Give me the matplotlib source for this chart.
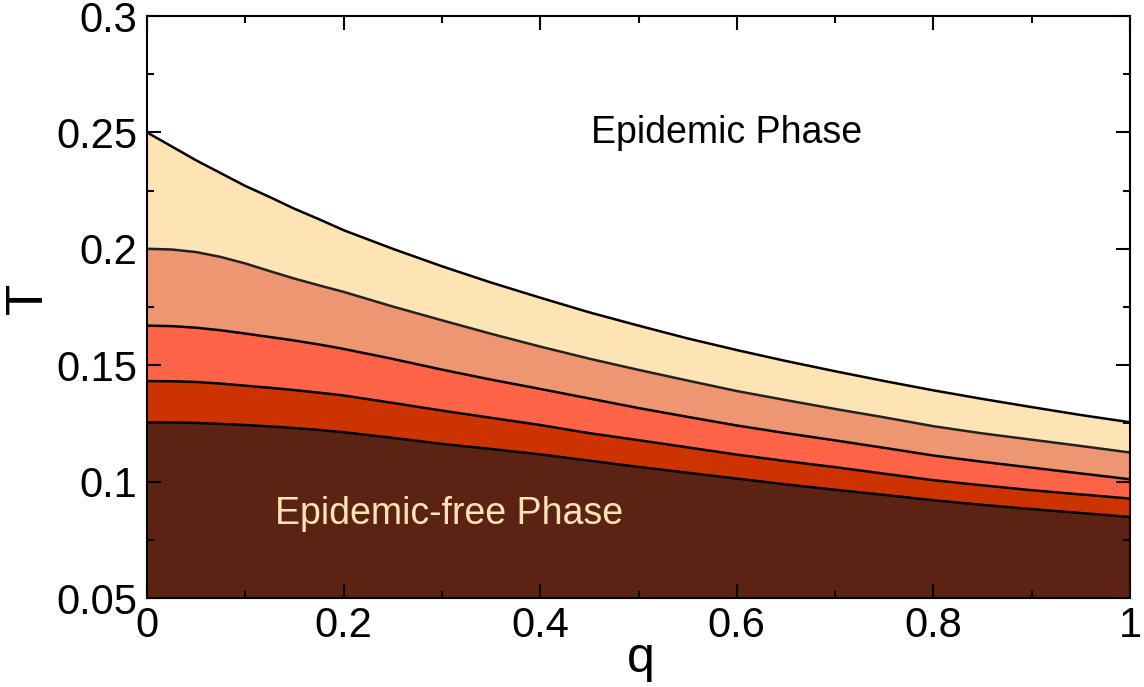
import matplotlib
matplotlib.use("Agg")
import matplotlib.pyplot as plt
from matplotlib.ticker import MultipleLocator

plt.rcParams['font.family'] = ['Liberation Sans', 'DejaVu Sans']

q = [0.0, 0.025, 0.05, 0.075, 0.1, 0.125, 0.15, 0.175, 0.2, 0.25, 0.3, 0.35, 0.4, 0.45, 0.5,
     0.55, 0.6, 0.65, 0.7, 0.75, 0.8, 0.85, 0.9, 0.95, 1.0]

T_curve1 = [0.2500, 0.2440, 0.2380, 0.2325, 0.2270, 0.2222, 0.2172, 0.2127, 0.2080, 0.2000, 0.1925,
            0.1855, 0.1790, 0.1727, 0.1670, 0.1615, 0.1565, 0.1518, 0.1474, 0.1432, 0.1392,
            0.1355, 0.1320, 0.1286, 0.1255]
T_curve2 = [0.2000, 0.1997, 0.1986, 0.1965, 0.1937, 0.1904, 0.1872, 0.1843, 0.1815, 0.1752, 0.1693,
            0.1635, 0.1580, 0.1528, 0.1480, 0.1434, 0.1389, 0.1350, 0.1312, 0.1276, 0.1238,
            0.1207, 0.1180, 0.1153, 0.1125]
T_curve3 = [0.1670, 0.1668, 0.1661, 0.1650, 0.1636, 0.1621, 0.1606, 0.1589, 0.1570, 0.1527, 0.1481,
            0.1438, 0.1398, 0.1357, 0.1316, 0.1278, 0.1241, 0.1208, 0.1177, 0.1145, 0.1112,
            0.1085, 0.1060, 0.1035, 0.1010]
T_curve4 = [0.1432, 0.1431, 0.1428, 0.1421, 0.1412, 0.1403, 0.1393, 0.1382, 0.1370, 0.1338, 0.1305,
            0.1274, 0.1243, 0.1208, 0.1178, 0.1147, 0.1116, 0.1088, 0.1062, 0.1034, 0.1006,
            0.0984, 0.0963, 0.0945, 0.0927]
T_curve5 = [0.1255, 0.1254, 0.1252, 0.1248, 0.1243, 0.1237, 0.1230, 0.1222, 0.1212, 0.1188, 0.1162,
            0.1140, 0.1117, 0.1090, 0.1063, 0.1038, 0.1013, 0.0988, 0.0965, 0.0943, 0.0920,
            0.0900, 0.0882, 0.0865, 0.0848]

fill_colors = ['#FEE4B4', '#EE9672', '#FF6348', '#CC3300', '#5C2314']
line_colors = ['#000000', '#222222', '#000000', '#000000', '#000000']

x_ticks = [0, 0.2, 0.4, 0.6, 0.8, 1]
x_ticklabels = ['0', '0.2', '0.4', '0.6', '0.8', '1']
y_ticks = [0.05, 0.1, 0.15, 0.2, 0.25, 0.3]
y_ticklabels = ['0.05', '0.1', '0.15', '0.2', '0.25', '0.3']

fig = plt.figure(figsize=(11.44, 6.87), dpi=100)
ax = fig.add_axes([147/1144, 1-598/687, 983/1144, 582/687])

ymin = 0.05
curves = [T_curve1, T_curve2, T_curve3, T_curve4, T_curve5]
lowers = [T_curve2, T_curve3, T_curve4, T_curve5, [ymin]*len(q)]
for upper, lower, c in zip(curves, lowers, fill_colors):
    ax.fill_between(q, lower, upper, color=c, linewidth=0)
for cur, lc in zip(curves, line_colors):
    ax.plot(q, cur, color=lc, linewidth=1.8, solid_joinstyle='round')

ax.set_xlim(0, 1)
ax.set_ylim(0.05, 0.3)
ax.set_xticks(x_ticks)
ax.set_xticklabels(x_ticklabels, fontsize=30)
ax.set_yticks(y_ticks)
ax.set_yticklabels(y_ticklabels, fontsize=30)
ax.xaxis.set_minor_locator(MultipleLocator(0.1))
ax.yaxis.set_minor_locator(MultipleLocator(0.025))
ax.tick_params(which='both', direction='in', top=True, right=True, width=1.5)
ax.tick_params(which='major', length=10)
ax.tick_params(axis='x', which='major', pad=6)
ax.tick_params(axis='y', which='major', pad=7)
ax.tick_params(which='minor', length=5)
for s in ax.spines.values():
    s.set_linewidth(1.5)

# axis labels placed as figure text so they stay fully inside the canvas
fig.text(641/1144, 1-672/687, 'q', fontsize=36, ha='center', va='baseline')
fig.text(28/1144, 1-298/687, 'T', fontsize=37, rotation=90, ha='center', va='center')

ax.text(0.59, 0.2497, 'Epidemic Phase', fontsize=27, ha='center', va='center', color='black')
ax.text(0.307, 0.0862, 'Epidemic-free Phase', fontsize=27, ha='center', va='center', color='#FEE4B4')

fig.savefig('out.png', dpi=100)
